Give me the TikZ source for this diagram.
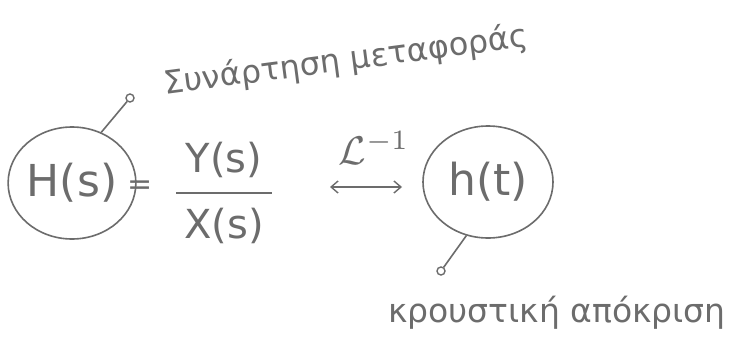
\documentclass[tikz,border=0pt]{standalone}
\usepackage{graphicx}
\usepackage{fontspec}
\setmainfont{DejaVu Sans}
\usetikzlibrary{shapes.geometric,arrows.meta}
\definecolor{inkc}{RGB}{108,108,108}
\begin{document}
\begin{tikzpicture}[x=1pt,y=-1pt,
  ink/.style={draw=inkc, line width=1.6pt},
  txt/.style={text=inkc, inner sep=0pt},
  bigcirc/.style={ellipse, ink, text=inkc, inner sep=0pt},
  pinend/.style={circle, ink, line width=1.4pt, minimum size=8pt, inner sep=0pt},
  lbl/.style={text=inkc, inner sep=0pt, font=\fontsize{32}{38}\selectfont}]
\useasboundingbox (0,0) rectangle (744,343);
\fill[white] (0,0) rectangle (744,343);
% transfer function circle
\node[bigcirc, minimum width=118pt, minimum height=112pt,
      font=\fontsize{44}{50}\selectfont] (H) at (72,183) {H(s)};
\node[txt, font=\fontsize{30}{36}\selectfont] (eq) at (140,188) {=};
\node[txt, align=center, inner xsep=8pt, font=\fontsize{40}{66}\selectfont] (frac) at (224,193) {Y(s)\\X(s)};
\draw[ink] (frac.west) -- (frac.east);
% Laplace inverse arrow
\coordinate (al) at (330,187);
\coordinate (ar) at (402,187);
\draw[ink, line width=1.4pt, {Straight Barb[length=7pt,width=12pt]}-{Straight Barb[length=7pt,width=12pt]}] (al) -- (ar);
\node[txt] (L) at (374,148) {\scalebox{4}{$\mathcal{L}^{-1}$}};
% impulse response circle
\node[bigcirc, minimum width=130pt, minimum height=112pt,
      font=\fontsize{44}{50}\selectfont] (h) at (488,182) {h(t)};
% labels with pins
\node[pinend] (p1) at (130,98) {};
\draw[ink] (H.60) -- (p1);
\node[lbl, rotate=7.5] (lab1) at (346,61) {Συνάρτηση μεταφοράς};
\node[pinend] (p2) at (441,271) {};
\draw[ink] (h.248) -- (p2);
\node[lbl, font=\fontsize{33}{38}\selectfont] (lab2) at (557,313) {κρουστική απόκριση};
\end{tikzpicture}
\end{document}
